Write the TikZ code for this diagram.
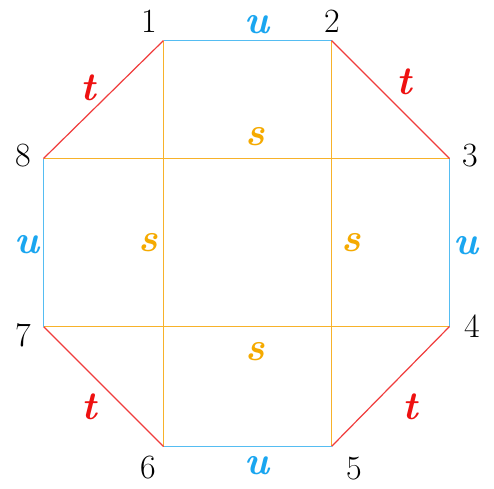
\documentclass[tikz,border=0pt]{standalone}
\usepackage{fontspec}
\setmainfont{Latin Modern Roman}
\definecolor{ublue}{HTML}{1AA6F0}
\definecolor{ulblue}{HTML}{55BDF2}
\definecolor{tred}{HTML}{EE1111}
\definecolor{tlred}{HTML}{F03C3C}
\definecolor{sorg}{HTML}{F5AA00}
\definecolor{slorg}{HTML}{F7B22A}
\begin{document}
\begin{tikzpicture}[x=1pt,y=-1pt,
  num/.style={font=\fontsize{34}{34}\selectfont, inner sep=0pt},
  lab/.style={font=\fontsize{40}{40}\selectfont\bfseries\itshape, inner sep=0pt},
  ue/.style={draw=ulblue, line width=1.5pt},
  te/.style={draw=tlred, line width=1.2pt},
  se/.style={draw=slorg, line width=1.5pt}]
\useasboundingbox (0,0) rectangle (494,488);
\fill[white] (0,0) rectangle (494,488);
\coordinate (v1) at (163.5,40.5);
\coordinate (v2) at (331.5,40.5);
\coordinate (v3) at (449.5,158.5);
\coordinate (v4) at (449.5,326.5);
\coordinate (v5) at (331.5,446.5);
\coordinate (v6) at (163.5,446.5);
\coordinate (v7) at (43.5,326.5);
\coordinate (v8) at (43.5,158.5);
% inner orange lines
\draw[se] (v8) -- (v3);
\draw[se] (v7) -- (v4);
\draw[se] (v1) -- (v6);
\draw[se] (v2) -- (v5);
% octagon
\draw[ue] (v1) -- (v2);
\draw[te] (v2) -- (v3);
\draw[ue] (v3) -- (v4);
\draw[te] (v4) -- (v5);
\draw[ue] (v5) -- (v6);
\draw[te] (v6) -- (v7);
\draw[ue] (v7) -- (v8);
\draw[te] (v8) -- (v1);
% vertex numbers
\node[num] (n1) at (149,21) {1};
\node[num] (n2) at (332,21) {2};
\node[num] (n3) at (470,156) {3};
\node[num] (n4) at (472,326) {4};
\node[num] (n5) at (354,469) {5};
\node[num] (n6) at (148,468) {6};
\node[num] (n7) at (23,335) {7};
\node[num] (n8) at (23,156) {8};
% edge labels
\node[lab,text=ublue] (lu1) at (257,25) {u};
\node[lab,text=ublue] (lu2) at (27,245) {u};
\node[lab,text=ublue] (lu3) at (466,246) {u};
\node[lab,text=ublue] (lu4) at (257,466) {u};
\node[lab,text=tred] (lt1) at (88,88) {t};
\node[lab,text=tred] (lt2) at (404,82) {t};
\node[lab,text=tred] (lt3) at (89,407) {t};
\node[lab,text=tred] (lt4) at (410,407) {t};
\node[lab,text=sorg] (ls1) at (255,137) {s};
\node[lab,text=sorg] (ls2) at (148,243) {s};
\node[lab,text=sorg] (ls3) at (351,243) {s};
\node[lab,text=sorg] (ls4) at (255,352) {s};
\end{tikzpicture}
\end{document}
